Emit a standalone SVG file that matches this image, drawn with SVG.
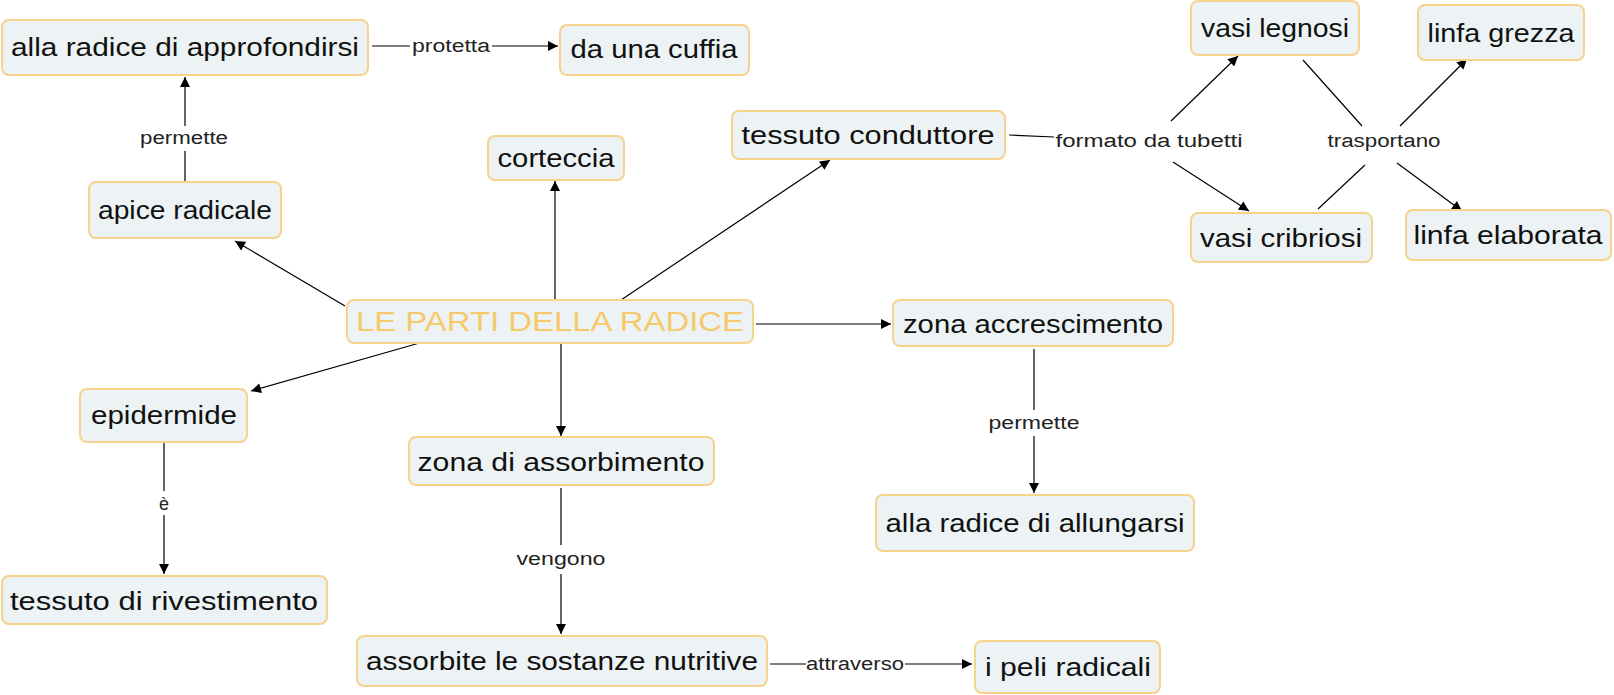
<svg xmlns="http://www.w3.org/2000/svg" width="1614" height="695" viewBox="0 0 1614 695">
<defs>
<marker id="arr" viewBox="0 0 10 10" refX="10" refY="5" markerWidth="11" markerHeight="10" markerUnits="userSpaceOnUse" orient="auto">
<path d="M0,0 L10,5 L0,10 z" fill="#000"/>
</marker>
<style>
.n rect{fill:#edf3f4;stroke:#f5d38c;stroke-width:2}
.n text{font-family:"Liberation Sans",Arial,sans-serif;font-size:25px;fill:#111;text-anchor:middle}
#main text{fill:#f6c96a;font-size:27px}
.c line,.c path{stroke:#000;stroke-width:1.2;fill:none}
.c .a{marker-end:url(#arr)}
.l{font-family:"Liberation Sans",Arial,sans-serif;font-size:18px;fill:#222;text-anchor:middle}
</style>
</defs>
<rect width="1614" height="695" fill="#fff"/>
<g class="c" id="connectors">
<!-- apice -> alla radice di approfondirsi -->
<line x1="185" y1="181" x2="185" y2="151"/>
<line class="a" x1="185" y1="126" x2="185" y2="77"/>
<!-- protetta -->
<line x1="372" y1="46" x2="410" y2="46"/>
<line class="a" x1="492" y1="46" x2="558" y2="46"/>
<!-- main -> apice -->
<line class="a" x1="345" y1="306" x2="235" y2="241"/>
<!-- main -> corteccia -->
<line class="a" x1="555" y1="300" x2="555" y2="181"/>
<!-- main -> tessuto conduttore -->
<line class="a" x1="621" y1="300" x2="830" y2="160"/>
<!-- tessuto conduttore -> formato da tubetti -->
<line x1="1009" y1="135" x2="1054" y2="137"/>
<line class="a" x1="1171" y1="121" x2="1238" y2="56"/>
<line class="a" x1="1173" y1="162" x2="1249" y2="211"/>
<!-- trasportano -->
<line x1="1303" y1="60" x2="1362" y2="126"/>
<line x1="1318" y1="209" x2="1365" y2="165"/>
<line class="a" x1="1400" y1="126" x2="1467" y2="59"/>
<line class="a" x1="1397" y1="163" x2="1462" y2="211"/>
<!-- main -> zona accrescimento -->
<line class="a" x1="756" y1="324" x2="891" y2="324"/>
<!-- zona accrescimento -> allungarsi -->
<line x1="1034" y1="349" x2="1034" y2="410"/>
<line class="a" x1="1034" y1="436" x2="1034" y2="493"/>
<!-- main -> epidermide -->
<line class="a" x1="423" y1="342" x2="251" y2="391"/>
<!-- main -> zona di assorbimento -->
<line class="a" x1="561" y1="344" x2="561" y2="436"/>
<!-- epidermide -> tessuto di rivestimento -->
<line x1="164" y1="443" x2="164" y2="491"/>
<line class="a" x1="164" y1="515" x2="164" y2="574"/>
<!-- zona di assorbimento -> assorbite -->
<line x1="561" y1="488" x2="561" y2="545"/>
<line class="a" x1="561" y1="574" x2="561" y2="634"/>
<!-- attraverso -->
<line x1="770" y1="664" x2="806" y2="664"/>
<line class="a" x1="905" y1="664" x2="972" y2="664"/>
</g>
<g id="labels">
<text class="l" x="184" y="144" textLength="88" lengthAdjust="spacingAndGlyphs">permette</text>
<text class="l" x="451" y="52" textLength="78" lengthAdjust="spacingAndGlyphs">protetta</text>
<text class="l" x="1149" y="147" textLength="187" lengthAdjust="spacingAndGlyphs">formato da tubetti</text>
<text class="l" x="1384" y="147" textLength="113" lengthAdjust="spacingAndGlyphs">trasportano</text>
<text class="l" x="1034" y="429" textLength="91" lengthAdjust="spacingAndGlyphs">permette</text>
<text class="l" x="164" y="510">è</text>
<text class="l" x="561" y="565" textLength="89" lengthAdjust="spacingAndGlyphs">vengono</text>
<text class="l" x="855" y="670" textLength="98" lengthAdjust="spacingAndGlyphs">attraverso</text>
</g>
<g class="n" id="n1"><rect x="2" y="20" width="366" height="55" rx="7"/><text x="185" y="56" textLength="348" lengthAdjust="spacingAndGlyphs">alla radice di approfondirsi</text></g>
<g class="n" id="n2"><rect x="560" y="25" width="189" height="50" rx="7"/><text x="654" y="58" textLength="167" lengthAdjust="spacingAndGlyphs">da una cuffia</text></g>
<g class="n" id="n3"><rect x="488" y="136" width="136" height="44" rx="7"/><text x="556" y="167" textLength="117" lengthAdjust="spacingAndGlyphs">corteccia</text></g>
<g class="n" id="n4"><rect x="732" y="111" width="273" height="48" rx="7"/><text x="868" y="144" textLength="253" lengthAdjust="spacingAndGlyphs">tessuto conduttore</text></g>
<g class="n" id="n5"><rect x="89" y="182" width="192" height="56" rx="7"/><text x="185" y="219" textLength="174" lengthAdjust="spacingAndGlyphs">apice radicale</text></g>
<g class="n" id="n6"><rect x="1191" y="1" width="168" height="54" rx="7"/><text x="1275" y="37" textLength="148" lengthAdjust="spacingAndGlyphs">vasi legnosi</text></g>
<g class="n" id="n7"><rect x="1418" y="5" width="166" height="55" rx="7"/><text x="1501" y="42" textLength="147" lengthAdjust="spacingAndGlyphs">linfa grezza</text></g>
<g class="n" id="n8"><rect x="1191" y="213" width="181" height="49" rx="7"/><text x="1281" y="247" textLength="162" lengthAdjust="spacingAndGlyphs">vasi cribriosi</text></g>
<g class="n" id="n9"><rect x="1406" y="210" width="205" height="50" rx="7"/><text x="1508" y="244" textLength="189" lengthAdjust="spacingAndGlyphs">linfa elaborata</text></g>
<g class="n" id="main"><rect x="347" y="300" width="406" height="43" rx="7"/><text x="550" y="331" textLength="388" lengthAdjust="spacingAndGlyphs">LE PARTI DELLA RADICE</text></g>
<g class="n" id="n11"><rect x="893" y="300" width="280" height="46" rx="7"/><text x="1033" y="333" textLength="260" lengthAdjust="spacingAndGlyphs">zona accrescimento</text></g>
<g class="n" id="n12"><rect x="80" y="389" width="167" height="53" rx="7"/><text x="164" y="424" textLength="146" lengthAdjust="spacingAndGlyphs">epidermide</text></g>
<g class="n" id="n13"><rect x="409" y="437" width="305" height="48" rx="7"/><text x="561" y="471" textLength="287" lengthAdjust="spacingAndGlyphs">zona di assorbimento</text></g>
<g class="n" id="n14"><rect x="876" y="495" width="318" height="56" rx="7"/><text x="1035" y="532" textLength="299" lengthAdjust="spacingAndGlyphs">alla radice di allungarsi</text></g>
<g class="n" id="n15"><rect x="2" y="576" width="325" height="48" rx="7"/><text x="164" y="610" textLength="308" lengthAdjust="spacingAndGlyphs">tessuto di rivestimento</text></g>
<g class="n" id="n16"><rect x="357" y="636" width="410" height="50" rx="7"/><text x="562" y="670" textLength="392" lengthAdjust="spacingAndGlyphs">assorbite le sostanze nutritive</text></g>
<g class="n" id="n17"><rect x="975" y="641" width="185" height="52" rx="7"/><text x="1068" y="676" textLength="166" lengthAdjust="spacingAndGlyphs">i peli radicali</text></g>
</svg>
